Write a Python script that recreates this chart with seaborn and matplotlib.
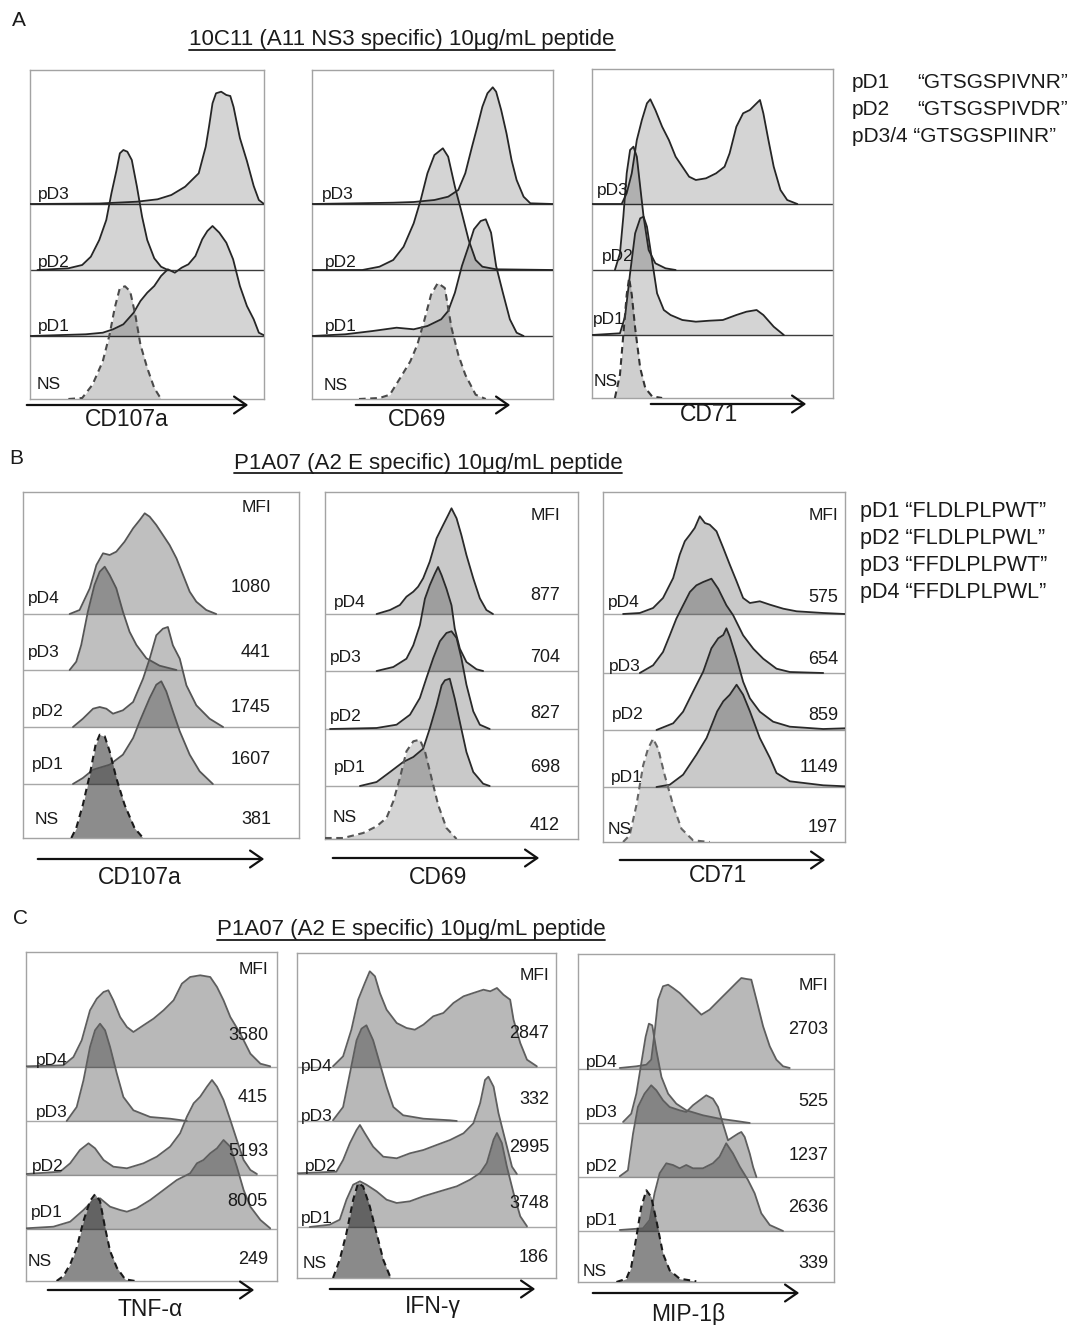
import numpy as np
import matplotlib
matplotlib.use("Agg")
import matplotlib.pyplot as plt
import seaborn as sns
from matplotlib.patches import FancyArrowPatch, ArrowStyle
from matplotlib.lines import Line2D

# ---------------- DATA (x = % of channel range, h = event count height) ----------------
# Panel A, CD107a
a1_pd3_x = [0, 29.6, 45.7, 54.5, 60.4, 66.3, 72.1, 75.1, 76.5, 78.0, 79.5, 81.7, 83.9, 85.6, 87.0, 89.7, 92.7, 95.6, 97.8, 100]
a1_pd3_h = [0, 0.5, 2.3, 4.7, 9, 17.3, 30.7, 57.3, 77.3, 100.7, 110.7, 112.3, 109, 108, 97, 66, 43, 18, 4, 0]
a1_pd2_x = [3.2, 16.4, 22.3, 26.0, 29.6, 32.6, 34.8, 37.0, 38.4, 39.9, 41.6, 43.5, 45.7, 47.9, 50.1, 53.1, 56.0, 58.9]
a1_pd2_h = [0, 1.7, 5, 13.3, 30, 50, 76.7, 100, 116.7, 120, 118.3, 110, 83.3, 53.3, 30, 11.7, 3.3, 0]
a1_pd1_x = [0, 23.8, 31.1, 35.5, 39.9, 44.3, 47.2, 50.1, 53.1, 56.0, 58.9, 61.9, 64.8, 67.7, 70.7, 73.6, 75.8, 78.0, 80.9, 83.9, 86.8, 89.7, 92.7, 95.6, 97.8, 100]
a1_pd1_h = [0, 1.7, 3.3, 6.7, 11.7, 23.3, 35, 43.3, 50, 60, 66.7, 63.3, 68.3, 71.7, 80, 96.7, 105, 110, 103.3, 93.3, 76.7, 50, 30, 16.7, 3.3, 0.7]
a1_ns_x = [16.4, 22.3, 26.7, 31.1, 34.0, 36.2, 38.4, 40.6, 42.8, 45.0, 47.2, 50.1, 53.1, 56.0]
a1_ns_h = [0, 1, 14.3, 37.7, 64.3, 91, 111, 112.7, 107.7, 84.3, 54.3, 31, 11, 0]

# Panel A, CD69
a2_pd3_x = [0, 33.7, 42.2, 50.8, 56.5, 60.7, 63.6, 66.4, 68.6, 70.7, 72.8, 75.0, 76.4, 78.5, 80.7, 82.8, 84.9, 87.8, 90.6, 100]
a2_pd3_h = [0, 1.3, 2, 4, 7.3, 14, 30.7, 57.3, 77.3, 97.3, 110.7, 116.7, 112.3, 94, 70.7, 44, 24, 7.3, 0.7, 0]
a2_pd2_x = [0, 20.9, 28.0, 33.7, 38.0, 42.2, 45.1, 47.9, 50.8, 54.3, 56.5, 59.3, 62.2, 65.0, 67.9, 70.7, 76.4, 100]
a2_pd2_h = [0, 0, 3.3, 10, 23.3, 46.7, 70, 96.7, 115, 121.7, 113.3, 83.3, 56.7, 30, 10, 3.3, 0.7, 0]
a2_pd1_x = [0, 13.8, 25.2, 35.1, 42.2, 47.9, 53.6, 56.5, 59.3, 62.2, 65.0, 67.2, 70.0, 72.1, 74.3, 76.4, 79.2, 82.1, 84.9, 87.8]
a2_pd1_h = [0, 1.7, 5, 8.3, 6.7, 10, 16.7, 25, 43.3, 70, 90, 106.7, 115, 116.7, 103.3, 70, 43.3, 16.7, 3.3, 0]
a2_ns_x = [19.5, 28.0, 32.3, 36.6, 40.8, 43.7, 46.5, 49.4, 52.2, 55.1, 57.9, 60.7, 63.6, 67.9, 72.1]
a2_ns_h = [0, 1, 4.3, 21, 37.7, 54.3, 77.7, 104.3, 116, 111, 71, 44.3, 24.3, 4.3, 0]

# Panel A, CD71
a3_pd3_x = [0, 12.3, 14.4, 16.5, 18.6, 20.7, 22.8, 24.2, 26.3, 29.1, 31.9, 34.7, 37.5, 40.3, 43.1, 47.3, 51.5, 55.0, 57.1, 59.9, 62.7, 65.5, 68.3, 69.7, 71.1, 73.2, 75.4, 78.2, 81.0, 85.2]
a3_pd3_h = [0, 0, 10.7, 30.7, 64, 84, 100.7, 104.7, 94, 77.3, 64, 47.3, 37.3, 27.3, 24, 25.7, 30.7, 37.3, 50.7, 77.3, 90.7, 94, 100.7, 104, 90.7, 64, 37.3, 14, 4, 0]
a3_pd2_x = [9.5, 11.6, 13.0, 14.4, 15.8, 17.2, 18.6, 20.0, 21.4, 23.5, 26.3, 30.5, 34.7]
a3_pd2_h = [0, 16.7, 53.3, 96.7, 120, 123.3, 113.3, 83.3, 53.3, 20, 6.7, 1.7, 0]
a3_pd1_x = [0, 11.6, 13.7, 15.8, 17.9, 20.0, 21.4, 22.8, 24.9, 27.0, 29.8, 32.6, 37.5, 43.1, 48.7, 54.3, 59.9, 64.1, 68.3, 71.1, 75.4, 79.6]
a3_pd1_h = [0, 1.7, 18.3, 61.7, 101.7, 116.7, 118.3, 108.3, 75, 41.7, 25, 20, 15, 13.3, 14.3, 15, 20, 23.3, 25, 20, 8.3, 0]
a3_ns_x = [9.5, 11.6, 13.0, 14.4, 15.4, 16.5, 17.9, 20.0, 22.1, 24.9, 29.1]
a3_ns_h = [0, 23.3, 63.3, 103.3, 120, 103.3, 70, 30, 10, 1.7, 0]

# Panel B, CD107a
b1_pd4_x = [16.9, 20.5, 24.2, 26.6, 29.0, 31.4, 33.8, 36.8, 39.9, 42.3, 44.1, 45.9, 48.3, 50.7, 53.1, 55.6, 58.0, 60.4, 62.8, 66.4, 70.0]
b1_pd4_h = [0, 4, 25.7, 49, 60.7, 59, 62.3, 72.3, 85.7, 94, 100.7, 97.3, 89, 79, 69, 55.7, 39, 22.3, 12.3, 4, 0]
b1_pd3_x = [16.9, 19.3, 21.1, 23.5, 25.9, 27.8, 29.6, 31.4, 33.8, 36.2, 38.6, 41.1, 44.7, 49.5, 55.6]
b1_pd3_h = [0, 8.3, 25, 58.3, 85, 98.3, 103.3, 95, 81.7, 58.3, 38.3, 25, 11.7, 4.3, 0]
b1_pd2_x = [18.1, 21.7, 25.4, 27.8, 30.2, 32.6, 36.2, 39.9, 43.5, 45.9, 48.3, 50.7, 52.5, 54.3, 56.8, 59.2, 62.8, 67.6, 72.5]
b1_pd2_h = [0, 8.3, 18.3, 20, 18.3, 13.3, 16.7, 25, 48.3, 68.3, 91.7, 98.3, 100, 81.7, 68.3, 41.7, 21.7, 8.3, 0]
b1_pd1_x = [18.1, 21.7, 25.4, 31.4, 36.2, 39.9, 42.3, 45.9, 48.3, 50.1, 51.9, 54.3, 56.8, 60.4, 64.0, 68.8]
b1_pd1_h = [0, 6, 14.3, 19.3, 29.3, 46, 62.7, 86, 99.3, 102.7, 92.7, 72.7, 52.7, 29.3, 12.7, 0]
b1_ns_x = [17.5, 19.3, 21.7, 24.2, 26.3, 27.8, 29.6, 31.4, 33.8, 36.8, 40.4, 43.5]
b1_ns_h = [0, 10, 33.3, 63.3, 93.3, 103.3, 101.7, 86.7, 60, 33.3, 10, 0]

# Panel B, CD69
b2_pd4_x = [20.4, 25.7, 29.6, 32.2, 34.9, 36.8, 38.8, 41.4, 44.1, 46.7, 48.7, 50.0, 52.0, 53.9, 55.9, 58.6, 61.2, 63.8, 66.4]
b2_pd4_h = [0, 4, 9, 17.3, 22.3, 27.3, 35.7, 52.3, 75.7, 89, 99, 105.7, 95.7, 79, 59, 35.7, 15.7, 4, 0]
b2_pd3_x = [20.4, 27.0, 32.2, 34.9, 37.5, 39.5, 41.4, 43.4, 44.7, 46.1, 48.0, 50.0, 51.3, 53.3, 55.9, 59.9, 62.5]
b2_pd3_h = [0, 4, 12.3, 25.7, 45.7, 72.3, 85.7, 97.3, 104, 95.7, 82.3, 65.7, 42.3, 22.3, 9, 1.7, 0]
b2_pd2_x = [2.0, 20.4, 28.3, 33.6, 37.5, 40.1, 42.8, 45.4, 48.0, 50.0, 52.0, 53.9, 55.9, 58.6, 61.2, 65.1]
b2_pd2_h = [0, 1, 4.3, 14.3, 31, 51, 71, 87.7, 96, 97.7, 91, 71, 44.3, 17.7, 4.3, 0]
b2_pd1_x = [13.8, 20.4, 25.7, 30.9, 34.9, 38.8, 41.4, 44.1, 46.1, 47.4, 49.3, 51.3, 53.3, 55.9, 58.6, 62.5, 65.1]
b2_pd1_h = [0, 4, 14, 24, 29, 37.3, 57.3, 80.7, 100.7, 105.7, 107.3, 87.3, 64, 34, 14, 2.3, 0]
b2_ns_x = [0, 7.2, 15.1, 20.4, 24.3, 27.0, 29.6, 32.2, 34.9, 37.5, 39.5, 42.1, 44.7, 48.0, 52.0]
b2_ns_h = [1, 1, 6, 12.7, 21, 37.7, 61, 87.7, 97.7, 99.3, 87.7, 61, 34.3, 11, 0]

# Panel B, CD71
b3_pd4_x = [8.3, 15.2, 20.7, 24.8, 29.0, 31.7, 33.8, 35.9, 37.9, 40.0, 42.1, 44.1, 46.9, 49.7, 52.4, 55.2, 57.9, 60.7, 64.8, 69.0, 74.5, 80.0, 91.0, 100]
b3_pd4_h = [0, 1, 6, 16, 36, 59.3, 72.7, 79.3, 86, 97.7, 91, 89.3, 82.7, 66, 49.3, 32.7, 16, 11, 12.7, 9.3, 5.3, 2.7, 1, 0]
b3_pd3_x = [15.2, 20.7, 24.8, 27.6, 30.3, 33.1, 35.9, 38.6, 41.4, 44.8, 47.6, 51.0, 53.8, 57.9, 62.1, 66.2, 71.7, 77.2, 91.0]
b3_pd3_h = [0, 7.7, 21, 37.7, 54.3, 67.7, 81, 87.7, 91, 94.3, 84.3, 67.7, 57.7, 37.7, 24.3, 14.3, 4.3, 1, 0]
b3_pd2_x = [22.1, 29.0, 33.1, 37.2, 41.4, 44.8, 47.6, 49.7, 51.0, 52.4, 55.2, 57.9, 60.7, 64.8, 70.3, 77.2, 91.0, 100]
b3_pd2_h = [0, 6.7, 18.3, 38.3, 58.3, 81.7, 91.7, 95, 101.7, 93.3, 71.7, 48.3, 31.7, 18.3, 8.3, 3.3, 1, 1.7]
b3_pd1_x = [22.1, 27.6, 33.1, 38.6, 42.8, 47.2, 49.7, 52.4, 55.2, 57.9, 60.7, 64.8, 69.0, 71.7, 77.2, 91.0, 100]
b3_pd1_h = [0, 2.3, 12.3, 32.3, 49, 75.7, 85.7, 92.3, 102.3, 92.3, 75.7, 49, 29, 14, 5.7, 1.7, 0.7]
b3_ns_x = [8.3, 11.0, 13.8, 16.6, 18.6, 20.7, 22.8, 25.5, 29.0, 32.4, 37.2, 44.1]
b3_ns_h = [0, 6.7, 36.7, 76.7, 93.3, 103.3, 93.3, 66.7, 36.7, 13.3, 1.7, 0]

# Panel C, TNF-a
c1_pd4_x = [0, 14.9, 18.9, 22.2, 25.5, 28.2, 30.9, 32.8, 34.8, 37.5, 40.2, 42.8, 46.8, 50.8, 54.8, 58.8, 62.1, 65.4, 69.4, 73.4, 76.1, 78.7, 81.4, 85.4, 89.4, 93.4, 97.3]
c1_pd4_h = [0.7, 1.7, 10, 26.7, 56.7, 68.3, 75, 76.7, 66.7, 50, 40, 35, 41.7, 48.3, 56.7, 66.7, 83.3, 90, 91.7, 90, 80, 66.7, 50, 33.3, 13.3, 3.3, 0.7]
c1_pd3_x = [16.2, 20.2, 22.9, 25.5, 27.5, 29.5, 31.5, 33.5, 36.2, 38.8, 42.8, 49.5, 57.4, 64.1]
c1_pd3_h = [0, 14, 40.7, 74, 90.7, 97.3, 90.7, 74, 47.3, 24, 10.7, 4, 2.3, 0]
c1_pd2_x = [0, 13.6, 17.6, 21.5, 24.9, 27.5, 30.9, 34.8, 40.2, 46.8, 52.1, 57.4, 61.4, 64.1, 66.8, 69.4, 72.1, 74.1, 76.1, 78.7, 81.4, 84.0, 86.7, 89.4, 92.0]
c1_pd2_h = [1, 3.3, 11.7, 25, 31.7, 26.7, 15, 8.3, 6.7, 11.7, 18.3, 28.3, 41.7, 58.3, 71.7, 78.3, 88.3, 95, 88.3, 75, 55, 35, 15, 5, 1]
c1_pd1_x = [0, 10.9, 17.6, 22.9, 26.9, 29.5, 33.5, 37.5, 40.2, 44.1, 49.5, 54.8, 60.1, 65.4, 68.1, 70.7, 73.4, 76.1, 78.7, 81.4, 84.0, 86.7, 89.4, 93.4, 97.3]
c1_pd1_h = [0.7, 2.3, 7.3, 19, 29, 30.7, 22.3, 19, 17.3, 20.7, 29, 39, 49, 55.7, 65.7, 69, 75.7, 80.7, 89, 82.3, 62.3, 39, 22.3, 9, 0.7]
c1_ns_x = [12.2, 14.9, 17.6, 20.2, 22.9, 25.5, 27.5, 29.5, 31.5, 33.5, 36.2, 39.5, 43.5]
c1_ns_h = [0, 5, 16.7, 33.3, 60, 80, 86.7, 80, 53.3, 30, 13.3, 1.7, 0]

# Panel C, IFN-g
c2_pd4_x = [13.9, 17.8, 21.0, 23.6, 26.2, 28.1, 30.1, 32.0, 34.6, 38.5, 42.3, 45.5, 48.8, 52.6, 56.5, 60.4, 64.3, 68.1, 72.0, 74.6, 77.2, 79.7, 82.3, 83.6, 86.2, 88.8, 92.6]
c2_pd4_h = [0.7, 10.7, 37.3, 67.3, 84, 95.7, 90.7, 74, 57.3, 44, 39, 37.3, 42.3, 50.7, 54, 64, 70.7, 74, 77.3, 75.7, 79, 72.3, 67.3, 47.3, 24, 7.3, 0.7]
c2_pd3_x = [13.9, 17.8, 20.4, 23.0, 24.9, 26.8, 29.4, 32.0, 34.6, 37.2, 41.0, 48.8, 59.1, 61.7]
c2_pd3_h = [0.7, 14, 47.3, 80.7, 92.3, 95.7, 80.7, 57.3, 34, 14, 5.7, 2.3, 0.7, 0]
c2_pd2_x = [0, 15.2, 17.8, 20.4, 23.0, 24.3, 26.2, 29.4, 33.3, 38.5, 43.6, 48.8, 53.9, 59.1, 64.3, 68.1, 70.7, 72.6, 73.9, 75.9, 77.8, 80.4, 83.0, 84.9]
c2_pd2_h = [0.7, 2.3, 14, 30.7, 44, 49, 40.7, 27.3, 17.3, 15.7, 20.7, 24, 29, 34, 40.7, 50.7, 70.7, 94, 97.3, 87.3, 60.7, 34, 7.3, 0]
c2_pd1_x = [4.9, 12.6, 16.5, 19.1, 21.7, 24.3, 26.8, 30.7, 34.6, 38.5, 43.6, 48.8, 55.2, 61.7, 66.8, 70.7, 73.3, 75.9, 77.2, 79.1, 81.0, 83.6, 86.2, 88.8]
c2_pd1_h = [0, 2.3, 7.3, 27.3, 42.3, 45.7, 42.3, 35.7, 27.3, 24, 25.7, 30.7, 35.7, 40.7, 47.3, 54, 64, 87.3, 94, 84, 60.7, 34, 10.7, 0.7]
c2_ns_x = [13.9, 16.5, 19.1, 21.7, 23.6, 25.5, 28.1, 30.7, 33.3, 35.9]
c2_ns_h = [0, 18.3, 45, 78.3, 95, 91.7, 71.7, 45, 18.3, 1.7]

# Panel C, MIP-1b
c3_pd4_x = [16.3, 22.8, 26.7, 28.6, 29.9, 31.3, 33.2, 35.2, 37.1, 39.7, 42.3, 44.9, 48.2, 51.4, 54.0, 56.6, 59.2, 61.8, 63.8, 65.8, 67.7, 69.7, 72.3, 74.9, 77.5, 80.1, 82.7]
c3_pd4_h = [1, 2.7, 4.3, 9.3, 36, 69.3, 82.7, 84.3, 81, 76, 69.3, 62.7, 54.3, 59.3, 66, 72.7, 79.3, 86, 91, 90, 89.3, 69.3, 42.7, 22.7, 9.3, 2.7, 1]
c3_pd3_x = [17.6, 20.8, 22.8, 24.7, 26.4, 27.7, 29.0, 30.6, 32.6, 35.2, 38.4, 42.3, 48.8, 55.3, 61.8, 67.1]
c3_pd3_h = [1, 9.3, 29.3, 59.3, 86, 99.3, 97.7, 72.7, 46, 29.3, 19.3, 12.7, 7.7, 4.3, 2, 0]
c3_pd2_x = [16.3, 19.5, 21.5, 23.4, 26.0, 28.6, 30.6, 33.2, 35.8, 39.7, 42.3, 44.9, 47.5, 50.1, 52.7, 54.7, 56.6, 58.6, 60.5, 62.5, 63.8, 65.1, 67.1, 68.4, 69.7]
c3_pd2_h = [0.7, 6.7, 43.3, 70, 83.3, 91.7, 86.7, 76.7, 70, 66.7, 65, 71.7, 76.7, 81.7, 78.3, 70, 53.3, 36.7, 40, 43.3, 45, 40, 23.3, 10, 0]
c3_pd1_x = [16.3, 25.4, 28.0, 29.9, 31.9, 34.5, 37.1, 39.7, 42.3, 44.9, 48.8, 52.7, 55.3, 57.9, 60.5, 63.2, 66.4, 69.0, 71.6, 74.9, 80.1]
c3_pd1_h = [1, 2.7, 11, 37.7, 57.7, 67.7, 66, 62.7, 66, 62.7, 62.7, 67.7, 74.3, 87.7, 77.7, 64.3, 51, 37.7, 17.7, 6, 0]
c3_ns_x = [15.0, 18.9, 20.8, 22.8, 24.7, 26.7, 28.6, 30.6, 33.2, 35.8, 39.7, 46.2]
c3_ns_h = [0, 3.3, 15, 45, 75, 91.7, 85, 61.7, 28.3, 11.7, 3.3, 0.7]

# Labels / values
rows_a = ["pD3", "pD2", "pD1", "NS"]
rows_bc = ["pD4", "pD3", "pD2", "pD1", "NS"]
markers_a = ["CD107a", "CD69", "CD71"]
markers_b = ["CD107a", "CD69", "CD71"]
markers_c = ["TNF-α", "IFN-γ", "MIP-1β"]
b1_mfi = [1080, 441, 1745, 1607, 381]
b2_mfi = [877, 704, 827, 698, 412]
b3_mfi = [575, 654, 859, 1149, 197]
c1_mfi = [3580, 415, 5193, 8005, 249]
c2_mfi = [2847, 332, 2995, 3748, 186]
c3_mfi = [2703, 525, 1237, 2636, 339]
title_a = "10C11 (A11 NS3 specific) 10μg/mL peptide"
title_bc = "P1A07 (A2 E specific) 10μg/mL peptide"
legend_a_ids = ["pD1", "pD2"]
legend_a_seq = ["“GTSGSPIVNR”", "“GTSGSPIVDR”"]
legend_a_last = "pD3/4 “GTSGSPIINR”"
legend_b = ["pD1 “FLDLPLPWT”", "pD2 “FLDLPLPWL”", "pD3 “FFDLPLPWT”", "pD4 “FFDLPLPWL”"]

# ---------------- FIGURE ----------------
sns.set_theme(style="white")
plt.rcParams["font.family"] = ["Liberation Sans", "DejaVu Sans"]
W, H = 1074, 1325
fig = plt.figure(figsize=(W / 100, H / 100), dpi=100)
fig.patch.set_facecolor("white")


def fx(x):
    return x / W


def fy(y):
    return 1 - y / H


def ftext(x, y, s, **kw):
    kw.setdefault("va", "center")
    kw.setdefault("color", "#1a1a1a")
    return fig.text(fx(x), fy(y), s, **kw)


panels = [
    dict(box=(30, 70, 264, 399), bases=[204, 270, 336], rows=rows_a,
         curves=[(a1_pd3_x, a1_pd3_h), (a1_pd2_x, a1_pd2_h), (a1_pd1_x, a1_pd1_h), (a1_ns_x, a1_ns_h)],
         lab=[(38, 195), (38, 262), (38, 327), (37, 385)], mfi=None,
         fa=0.17, nsa=0.19, edge="#262626", nsedge="#4a4a4a", sep="#3c3c3c"),
    dict(box=(312, 70, 553, 399), bases=[204, 270, 336], rows=rows_a,
         curves=[(a2_pd3_x, a2_pd3_h), (a2_pd2_x, a2_pd2_h), (a2_pd1_x, a2_pd1_h), (a2_ns_x, a2_ns_h)],
         lab=[(322, 195), (325, 262), (325, 327), (324, 386)], mfi=None,
         fa=0.17, nsa=0.19, edge="#262626", nsedge="#4a4a4a", sep="#3c3c3c"),
    dict(box=(592, 69, 833, 398), bases=[204, 270, 335], rows=rows_a,
         curves=[(a3_pd3_x, a3_pd3_h), (a3_pd2_x, a3_pd2_h), (a3_pd1_x, a3_pd1_h), (a3_ns_x, a3_ns_h)],
         lab=[(597, 191), (602, 257), (593, 320), (594, 381)], mfi=None,
         fa=0.17, nsa=0.19, edge="#262626", nsedge="#333333", sep="#3c3c3c"),
    dict(box=(23, 492, 299, 838), bases=[614, 670, 727, 784], rows=rows_bc,
         curves=[(b1_pd4_x, b1_pd4_h), (b1_pd3_x, b1_pd3_h), (b1_pd2_x, b1_pd2_h), (b1_pd1_x, b1_pd1_h), (b1_ns_x, b1_ns_h)],
         lab=[(28, 599), (28, 653), (32, 712), (32, 764), (35, 820)],
         mfi=(b1_mfi, 271, [508, 588, 653, 708, 760, 820]),
         fa=0.25, nsa=0.45, edge="#555555", nsedge="#1a1a1a", sep="#a8a8a8"),
    dict(box=(325, 492, 578, 839), bases=[614, 671, 729, 786], rows=rows_bc,
         curves=[(b2_pd4_x, b2_pd4_h), (b2_pd3_x, b2_pd3_h), (b2_pd2_x, b2_pd2_h), (b2_pd1_x, b2_pd1_h), (b2_ns_x, b2_ns_h)],
         lab=[(334, 602), (330, 658), (330, 716), (334, 767), (333, 818)],
         mfi=(b2_mfi, 560, [515, 595, 658, 713, 767, 825]),
         fa=0.21, nsa=0.17, edge="#2a2a2a", nsedge="#555555", sep="#a8a8a8"),
    dict(box=(603, 492, 845, 842), bases=[614, 673, 730, 787], rows=rows_bc,
         curves=[(b3_pd4_x, b3_pd4_h), (b3_pd3_x, b3_pd3_h), (b3_pd2_x, b3_pd2_h), (b3_pd1_x, b3_pd1_h), (b3_ns_x, b3_ns_h)],
         lab=[(608, 602), (609, 666), (612, 715), (611, 777), (608, 830)],
         mfi=(b3_mfi, 838, [515, 597, 660, 715, 768, 827]),
         fa=0.21, nsa=0.17, edge="#2a2a2a", nsedge="#666666", sep="#a8a8a8"),
    dict(box=(26, 952, 277, 1281), bases=[1067, 1121, 1175, 1229], rows=rows_bc,
         curves=[(c1_pd4_x, c1_pd4_h), (c1_pd3_x, c1_pd3_h), (c1_pd2_x, c1_pd2_h), (c1_pd1_x, c1_pd1_h), (c1_ns_x, c1_ns_h)],
         lab=[(36, 1061), (36, 1112), (32, 1167), (31, 1213), (28, 1262)],
         mfi=(c1_mfi, 268, [970, 1035, 1098, 1152, 1202, 1259]),
         fa=0.28, nsa=0.46, edge="#5e5e5e", nsedge="#1a1a1a", sep="#a8a8a8"),
    dict(box=(297, 953, 556, 1278), bases=[1067, 1121, 1174, 1227], rows=rows_bc,
         curves=[(c2_pd4_x, c2_pd4_h), (c2_pd3_x, c2_pd3_h), (c2_pd2_x, c2_pd2_h), (c2_pd1_x, c2_pd1_h), (c2_ns_x, c2_ns_h)],
         lab=[(301, 1066), (301, 1117), (305, 1167), (301, 1219), (303, 1263)],
         mfi=(c2_mfi, 549, [975, 1033, 1100, 1147, 1203, 1258]),
         fa=0.28, nsa=0.46, edge="#5e5e5e", nsedge="#1a1a1a", sep="#a8a8a8"),
    dict(box=(578, 954, 834, 1282), bases=[1069, 1123, 1177, 1231], rows=rows_bc,
         curves=[(c3_pd4_x, c3_pd4_h), (c3_pd3_x, c3_pd3_h), (c3_pd2_x, c3_pd2_h), (c3_pd1_x, c3_pd1_h), (c3_ns_x, c3_ns_h)],
         lab=[(586, 1062), (586, 1112), (586, 1166), (586, 1221), (583, 1271)],
         mfi=(c3_mfi, 828, [985, 1030, 1102, 1155, 1208, 1263]),
         fa=0.28, nsa=0.46, edge="#5e5e5e", nsedge="#1a1a1a", sep="#a8a8a8"),
]

for p in panels:
    l, t, r, b = p["box"]
    ax = fig.add_axes([fx(l), fy(b), (r - l) / W, (b - t) / H])
    ax.set_xlim(0, 100)
    ax.set_ylim(0, b - t)
    ax.set_xticks([])
    ax.set_yticks([])
    ax.set_facecolor("none")
    for sp in ax.spines.values():
        sp.set_edgecolor("#a3a3a3")
        sp.set_linewidth(1.0)
        sp.set_visible(True)
    offs = [b - y for y in p["bases"]] + [0]
    for o in offs[:-1]:
        ax.axhline(o, color=p["sep"], lw=1.0, zorder=1)
    n = len(p["curves"])
    for i, (xs, hs) in enumerate(p["curves"]):
        xs = np.asarray(xs, float)
        ys = offs[i] + np.asarray(hs, float)
        is_ns = (i == n - 1)
        ax.fill_between(xs, offs[i], ys, color="black", alpha=p["nsa"] if is_ns else p["fa"], lw=0, zorder=2)
        sns.lineplot(x=xs, y=ys, ax=ax, color=p["nsedge"] if is_ns else p["edge"],
                     linewidth=1.5 if is_ns else 1.3,
                     linestyle=(0, (3.2, 2.2)) if is_ns else "-",
                     estimator=None, sort=False, legend=False, zorder=3)
    for name, (lx, ly) in zip(p["rows"], p["lab"]):
        ftext(lx, ly, name, fontsize=12.5, ha="left")
    if p["mfi"] is not None:
        vals, rx, ys_ = p["mfi"]
        ftext(rx, ys_[0], "MFI", fontsize=12.5, ha="right")
        for v, yy in zip(vals, ys_[1:]):
            ftext(rx, yy, str(v), fontsize=13, ha="right")

# panel letters
ftext(12, 20, "A", fontsize=15, ha="left")
ftext(9, 458, "B", fontsize=15, ha="left")
ftext(13, 918, "C", fontsize=15, ha="left")

# titles (underlined)
titles = [ftext(402, 40, title_a, fontsize=16, ha="center"),
          ftext(428, 463, title_bc, fontsize=16, ha="center"),
          ftext(411, 930, title_bc, fontsize=16, ha="center")]

# legends
for i, (a, s) in enumerate(zip(legend_a_ids, legend_a_seq)):
    ftext(852, 83 + 26.5 * i, a, fontsize=15, ha="left")
    ftext(917, 83 + 26.5 * i, s, fontsize=15, ha="left")
ftext(852, 83 + 26.5 * 2, legend_a_last, fontsize=15, ha="left")
for i, s in enumerate(legend_b):
    ftext(860, 512 + 26.7 * i, s, fontsize=15.5, ha="left")

# axis arrows and marker labels
arrows = [((24, 405), (251, 405)), ((353, 405), (513, 405)), ((648, 404), (809, 404)),
          ((35, 859), (267, 859)), ((330, 858), (542, 858)), ((617, 860), (828, 860)),
          ((45, 1290), (257, 1290)), ((327, 1289), (538, 1289)), ((590, 1293), (802, 1293))]
lab_pos = [(127, 420), (417, 419), (709, 415),
           (140, 877), (438, 877), (718, 875),
           (150, 1310), (433, 1306), (688, 1314)]
markers = markers_a + markers_b + markers_c
for (p0, p1), s, (lx, ly) in zip(arrows, markers, lab_pos):
    arr = FancyArrowPatch((fx(p0[0]), fy(p0[1])), (fx(p1[0]), fy(p1[1])),
                          transform=fig.transFigure,
                          arrowstyle=ArrowStyle("->", head_length=0.55, head_width=0.38),
                          mutation_scale=16, lw=1.6, color="#111111")
    fig.add_artist(arr)
    ftext(lx, ly, s, fontsize=16.5, ha="center")

fig.canvas.draw()
rend = fig.canvas.get_renderer()
inv = fig.transFigure.inverted()
for t in titles:
    bb = t.get_window_extent(rend)
    (x0, y0) = inv.transform((bb.x0, bb.y0 + 1))
    (x1, _) = inv.transform((bb.x1, bb.y0 + 1))
    fig.add_artist(Line2D([x0, x1], [y0, y0], transform=fig.transFigure, color="#1a1a1a", lw=1.3))

fig.savefig("out.png", dpi=100, facecolor="white")
